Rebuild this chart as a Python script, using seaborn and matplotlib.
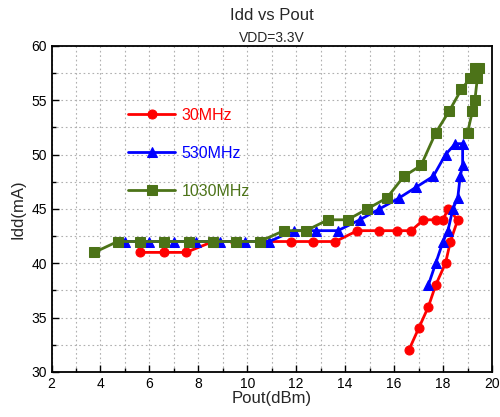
import matplotlib.pyplot as plt
import seaborn as sns
import pandas as pd
from matplotlib.ticker import MultipleLocator

sns.set_theme(style="ticks")
plt.rcParams['font.family'] = ['Liberation Sans', 'DejaVu Sans']

# 30MHz
x_30 = [5.6, 6.6, 7.5, 8.6, 9.5, 10.5, 11.8, 12.7, 13.6, 14.5, 15.4, 16.1, 16.7,
        17.2, 17.7, 18.0, 18.2, 18.6, 18.3, 18.1, 17.7, 17.4, 17.0, 16.6]
y_30 = [41, 41, 41, 42, 42, 42, 42, 42, 42, 43, 43, 43, 43,
        44, 44, 44, 45, 44, 42, 40, 38, 36, 34, 32]

# 530MHz
x_530 = [5.0, 6.0, 7.0, 7.9, 8.9, 9.9, 10.9, 11.9, 12.8, 13.7, 14.6, 15.4, 16.2,
         16.9, 17.6, 18.1, 18.5, 18.8, 18.8, 18.7, 18.6, 18.4, 18.2, 18.0, 17.7, 17.4]
y_530 = [42, 42, 42, 42, 42, 42, 42, 43, 43, 43, 44, 45, 46,
         47, 48, 50, 51, 51, 49, 48, 46, 45, 43, 42, 40, 38]

# 1030MHz
x_1030 = [3.75, 4.7, 5.6, 6.6, 7.6, 8.6, 9.55, 10.5, 11.5, 12.4, 13.3, 14.1, 14.9,
          15.7, 16.4, 17.1, 17.7, 18.25, 18.75, 19.1, 19.3, 19.45, 19.4, 19.3, 19.2, 19.0]
y_1030 = [41, 42, 42, 42, 42, 42, 42, 42, 43, 43, 44, 44, 45,
          46, 48, 49, 52, 54, 56, 57, 58, 58, 57, 55, 54, 52]

series = [
    ('30MHz', x_30, y_30, '#ff0000', 'o'),
    ('530MHz', x_530, y_530, '#0000ff', '^'),
    ('1030MHz', x_1030, y_1030, '#4c7318', 's'),
]

fig = plt.figure(figsize=(5, 4.17), dpi=100)
ax = fig.add_axes([0.103, 0.108, 0.881, 0.782])

for name, xs, ys, col, mk in series:
    df = pd.DataFrame({'Pout': xs, 'Idd': ys})
    sns.lineplot(x='Pout', y='Idd', data=df, sort=False, estimator=None, ax=ax,
                 color=col, marker=mk, markersize=6.5, markeredgecolor=col,
                 linewidth=2, label=name)

ax.set_xlim(2, 20)
ax.set_ylim(30, 60)
ax.xaxis.set_major_locator(MultipleLocator(2))
ax.xaxis.set_minor_locator(MultipleLocator(1))
ax.yaxis.set_major_locator(MultipleLocator(5))
ax.yaxis.set_minor_locator(MultipleLocator(2.5))
ax.grid(True, which='both', color='#b0b0b0', linestyle=(0, (1.5, 2.5)), linewidth=0.8)
ax.tick_params(which='both', direction='in', top=False, right=False,
               labelsize=10, colors='black')
ax.tick_params(which='major', length=5, width=1)
ax.tick_params(which='minor', length=3, width=1)
for s in ax.spines.values():
    s.set_color('black')
    s.set_linewidth(1.3)

ax.set_xlabel('Pout(dBm)', fontsize=12, labelpad=0)
ax.set_ylabel('Idd(mA)', fontsize=12, labelpad=4)
fig.text(0.544, 0.962, 'Idd vs Pout', ha='center', va='center', fontsize=12)
fig.text(0.544, 0.91, 'VDD=3.3V', ha='center', va='center', fontsize=10)

leg = ax.legend(loc='upper left', bbox_to_anchor=(0.14, 0.855), frameon=False,
                fontsize=11.5, handlelength=3, handletextpad=0.4, labelspacing=1.45)
for txt, (name, xs, ys, col, mk) in zip(leg.get_texts(), series):
    txt.set_color(col)

fig.savefig('out.png', dpi=100)
